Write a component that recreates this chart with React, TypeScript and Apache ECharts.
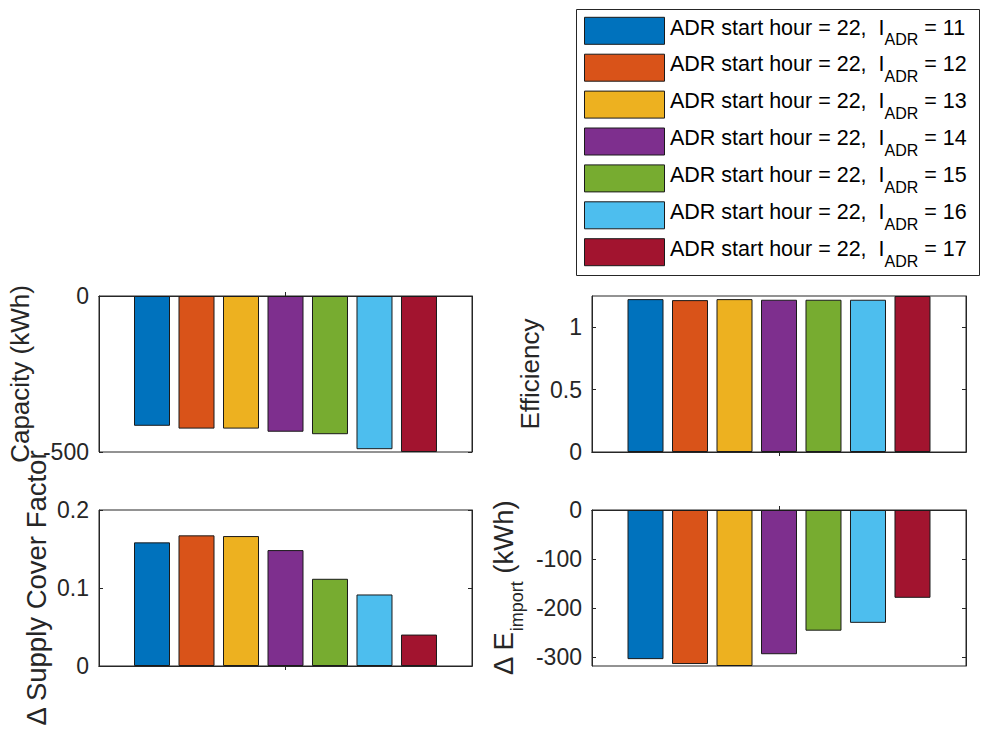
import React, { useEffect, useRef } from 'react';
import * as echarts from 'echarts';

const categories = ['1'];
const lAdrValues = ['11', '12', '13', '14', '15', '16', '17'];
const seriesNames = lAdrValues.map((v) => `ADR start hour = 22, I_ADR = ${v}`);
const colors = ['#0072BD', '#D95319', '#EDB120', '#7E2F8E', '#77AC30', '#4DBEEE', '#A2142F'];

const capacity = [-416, -425, -425, -435, -443, -491, -500];
const efficiency = [1.225, 1.217, 1.225, 1.22, 1.22, 1.22, 1.25];
const supplyCover = [0.1585, 0.1675, 0.1666, 0.1486, 0.1118, 0.0917, 0.0403];
const deltaImport = [-304, -314, -318, -294, -246, -230, -179];

const capacityTicks = [-500, 0];
const efficiencyTicks = [0, 0.5, 1];
const supplyTicks = [0, 0.1, 0.2];
const importTicks = [-300, -200, -100, 0];

const FONT = 'Liberation Sans';
const INK = '#262626';

export default function App() {
  const ref = useRef<HTMLDivElement>(null);

  useEffect(() => {
    if (!ref.current) return;
    const chart = echarts.init(ref.current, null, { renderer: 'svg' });

    const panels = [
      { data: capacity, min: -500, max: 0, ticks: capacityTicks, name: 'Capacity (kWh)', nameGap: 79, nameSize: 26,
        grid: { left: 99, top: 296, width: 373, height: 156 } },
      { data: efficiency, min: 0, max: 1.25, ticks: efficiencyTicks, name: 'Efficiency', nameGap: 62, nameSize: 26,
        grid: { left: 592, top: 296, width: 374, height: 156 } },
      { data: supplyCover, min: 0, max: 0.2, ticks: supplyTicks, name: 'Δ Supply Cover Factor', nameGap: 63, nameSize: 27.5,
        grid: { left: 99, top: 510, width: 373, height: 156 } },
      { data: deltaImport, min: -318, max: 0, ticks: importTicks, name: '{n|Δ E}{s|import}{n| (kWh)}', nameGap: 89, nameSize: 27.5,
        grid: { left: 592, top: 510, width: 374, height: 156 } },
    ];

    const grids: any[] = [];
    const xAxes: any[] = [];
    const yAxes: any[] = [];
    const series: any[] = [];

    panels.forEach((p, g) => {
      grids.push({ ...p.grid, show: true, borderColor: INK, borderWidth: 1, containLabel: false });
      const xBase = {
        type: 'category',
        gridIndex: g,
        data: categories,
        boundaryGap: true,
        axisLine: { show: true, lineStyle: { color: INK, width: 1 } },
        axisTick: { show: true, inside: true, alignWithLabel: true, length: 4, lineStyle: { color: INK } },
        axisLabel: { show: false },
        splitLine: { show: false },
      };
      xAxes.push({ ...xBase, position: 'bottom' });
      xAxes.push({ ...xBase, position: 'top' });
      const yBase = {
        type: 'value',
        gridIndex: g,
        min: p.min,
        max: p.max,
        axisLine: { show: true, lineStyle: { color: INK, width: 1 } },
        axisTick: { show: true, inside: true, length: 4, lineStyle: { color: INK }, customValues: p.ticks },
        splitLine: { show: false },
      };
      yAxes.push({
        ...yBase,
        position: 'left',
        name: p.name,
        nameLocation: 'middle',
        nameGap: p.nameGap,
        nameTextStyle: {
          fontFamily: FONT,
          fontSize: p.nameSize,
          color: INK,
          align: 'center',
          verticalAlign: 'middle',
          rich: {
            n: { fontFamily: FONT, fontSize: p.nameSize, color: INK, lineHeight: 29 },
            s: { fontFamily: FONT, fontSize: 18, color: INK, height: 1, lineHeight: 1, verticalAlign: 'bottom' },
          },
        },
        axisLabel: {
          show: true,
          customValues: p.ticks,
          fontFamily: FONT,
          fontSize: 23,
          color: INK,
          margin: 10,
        },
      });
      yAxes.push({ ...yBase, position: 'right', axisLabel: { show: false } });

      p.data.forEach((v, i) => {
        series.push({
          type: 'bar',
          name: seriesNames[i],
          xAxisIndex: 2 * g,
          yAxisIndex: 2 * g,
          data: [v],
          barWidth: 36,
          barGap: '23.6%',
          clip: true,
          itemStyle: { color: colors[i], borderColor: '#1a1a1a', borderWidth: 1 },
          emphasis: { disabled: true },
        });
      });
    });

    // Legend box (MATLAB-style) drawn with graphic elements
    const legendEls: any[] = [
      {
        type: 'rect',
        shape: { x: 576.5, y: 9.5, width: 403, height: 266 },
        style: { fill: '#ffffff', stroke: INK, lineWidth: 1 },
        z: 10,
      },
    ];
    seriesNames.forEach((_, i) => {
      const top = 17.3 + 36.9 * i;
      legendEls.push({
        type: 'rect',
        shape: { x: 584.5, y: top, width: 80, height: 27 },
        style: { fill: colors[i], stroke: '#1a1a1a', lineWidth: 1 },
        z: 11,
      });
      legendEls.push({
        type: 'text',
        x: 670,
        y: top + 10.2,
        z: 11,
        style: {
          text: `{n|ADR start hour = 22,  I}{s|ADR}{n| = ${lAdrValues[i]}}`,
          fontFamily: FONT,
          fontSize: 21.5,
          fill: '#000000',
          align: 'left',
          verticalAlign: 'middle',
          rich: {
            n: { fontFamily: FONT, fontSize: 21.5, fill: '#000000', lineHeight: 25.6 },
            s: { fontFamily: FONT, fontSize: 16, fill: '#000000', height: 1, lineHeight: 1, verticalAlign: 'bottom' },
          },
        },
      });
    });

    chart.setOption({
      animation: false,
      backgroundColor: '#ffffff',
      grid: grids,
      xAxis: xAxes,
      yAxis: yAxes,
      series,
      graphic: { elements: legendEls },
    });

    return () => chart.dispose();
  }, []);

  return (
    <div
      ref={ref}
      style={{ position: 'fixed', left: 0, top: 0, width: 986, height: 731, background: '#fff' }}
    />
  );
}
